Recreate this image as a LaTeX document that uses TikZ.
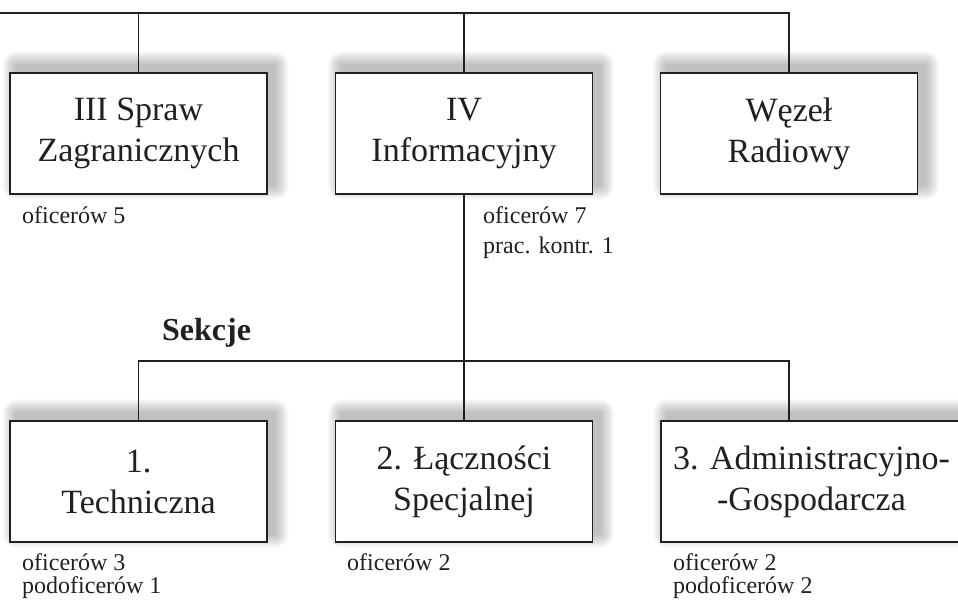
\documentclass[tikz,border=0pt]{standalone}
\usepackage{fontspec}
\setmainfont{Liberation Serif}
\usepackage{tikz}
\usetikzlibrary{positioning,backgrounds}
\definecolor{Czern}{HTML}{231F20}
\definecolor{Cien}{HTML}{000000}

\begin{document}
\begin{tikzpicture}[
  x=1pt,y=-1pt,
  every node/.style={text=Czern},
  jednostka/.style={draw=Czern,line width=1.4pt,fill=white,align=center,
    minimum width=257pt,minimum height=121pt,inner sep=0pt,
    font=\fontsize{34}{41}\selectfont},
  opis/.style={anchor=base west,inner sep=0pt,
    font=\fontsize{24}{28}\selectfont},
  linia/.style={draw=Czern,line width=1.4pt}
]
  \useasboundingbox (0,0) rectangle (958,605);

  % Wydziały
  \node[jednostka] (iii) at (138.5,133.5) {III Spraw\\Zagranicznych};
  \node[jednostka] (iv) at (464,133.5) {IV\\Informacyjny};
  \node[jednostka] (wezel) at (789,133.5) {Węzeł\\Radiowy};

  \node[opis] (iiiOf) at (22,223) {oficerów 5};
  \node[opis] (ivOf) at (483,223) {oficerów 7};
  \node[opis] (ivPrac) at ([yshift=-30pt]ivOf.base west) {prac. kontr. 1};

  % Sekcje wydziału IV
  \node[anchor=base west,inner sep=0pt,font=\fontsize{32}{34}\selectfont\bfseries]
    (sekcje) at (162,340) {Sekcje};
  \node[jednostka] (s1) at (138.5,481.5) {1.\\Techniczna};
  \node[jednostka] (s2) at (464,481.5) {2. Łączności\\Specjalnej};
  \node[jednostka,minimum width=301pt] (s3) at (811.5,481.5)
    {3. Administracyjno-\\-Gospodarcza};

  \node[opis] (s1Of) at (22,570) {oficerów 3};
  \node[opis] (s1Pod) at ([yshift=-23pt]s1Of.base west) {podoficerów 1};
  \node[opis] (s2Of) at (347,570) {oficerów 2};
  \node[opis] (s3Of) at (673,570) {oficerów 2};
  \node[opis] (s3Pod) at ([yshift=-23pt]s3Of.base west) {podoficerów 2};

  % Połączenia
  \coordinate (gora) at (-5,13);
  \coordinate (szyna) at (464,361);
  \draw[linia] (gora) -| (wezel.north);
  \draw[linia] (iii.north) -- (iii.north |- gora);
  \draw[linia] (iv.north) -- (iv.north |- gora);
  \draw[linia] (iv.south) -- (s2.north);
  \draw[linia] (s1.north) |- (wezel.south |- szyna) -- (wezel.south |- s3.north);

  % Rozmyte cienie
  \begin{scope}[on background layer]
    \foreach \n in {iii,iv,wezel,s1,s2,s3}
      \foreach \d in {1,...,14}
        \fill[Cien,opacity=0.018,rounded corners=\d pt]
          ([shift={(7-\d,\d-9)}]\n.south west) rectangle
          ([shift={(7+\d,-7-\d)}]\n.north east);
  \end{scope}
\end{tikzpicture}
\end{document}
